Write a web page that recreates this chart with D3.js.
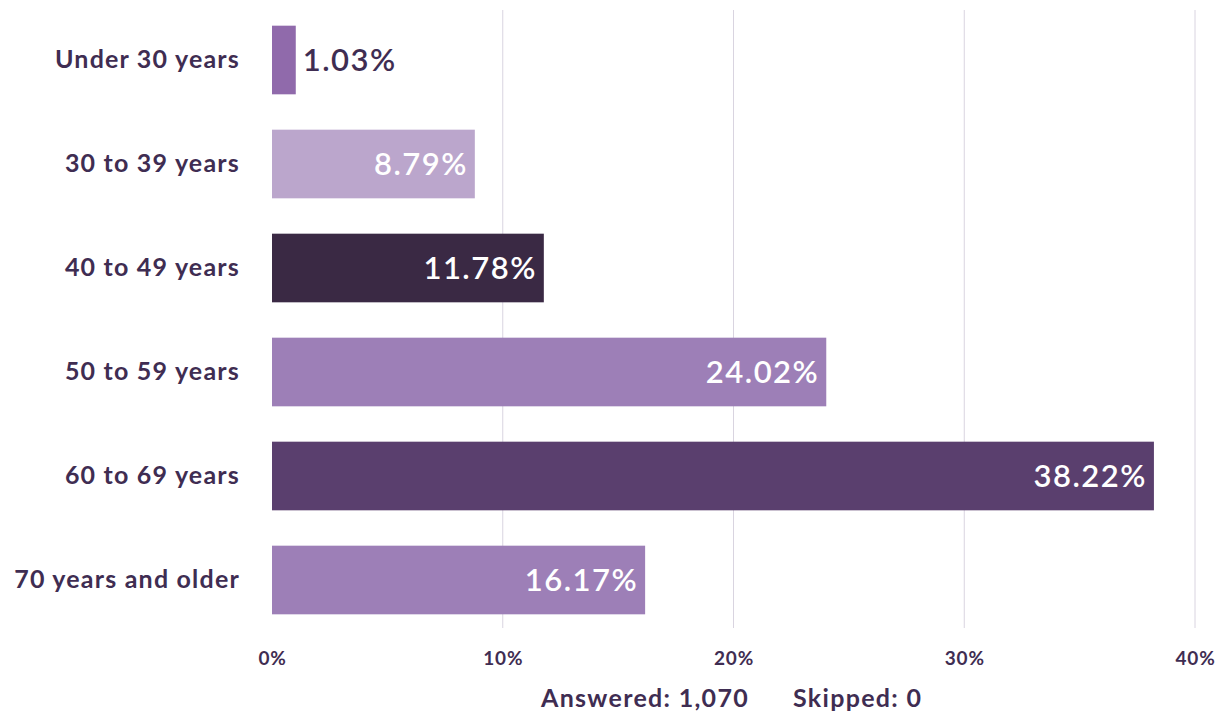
<!DOCTYPE html>
<html>
<head>
<meta charset="utf-8">
<script src="https://cdn.jsdelivr.net/npm/d3@7"></script>
<style>
  body { margin: 0; background: #fff; }
  text { font-family: Lato, "Noto Sans", sans-serif; }
</style>
</head>
<body>
<div id="chart"></div>
<script>
// data
const categories = ["Under 30 years", "30 to 39 years", "40 to 49 years", "50 to 59 years", "60 to 69 years", "70 years and older"];
const values = [1.03, 8.79, 11.78, 24.02, 38.22, 16.17];
const barColors = ["#906aab", "#bba6cc", "#3a2944", "#9d7fb7", "#5a3f6e", "#9d7fb7"];
const tickValues = [0, 10, 20, 30, 40];
const answered = "Answered: 1,070";
const skipped = "Skipped: 0";

const width = 1225, height = 719,
    textColor = "#3f2d52";

let svg = d3.select("#chart").append("svg")
    .attr("width", width)
    .attr("height", height);

let x = d3.scaleLinear().domain([0, 40]).range([272, 1195]);
let y = d3.scaleBand().domain(categories).range([8, 632]).paddingInner(0.34).paddingOuter(0.17);

// lineas de la grilla
svg.append("g").selectAll("line")
    .data(tickValues.slice(1))
    .enter().append("line")
    .attr("x1", d => x(d)).attr("x2", d => x(d))
    .attr("y1", 10).attr("y2", 628)
    .attr("stroke", "#d9d4e0")
    .attr("stroke-width", 1);

// barras
svg.append("g").selectAll("rect")
    .data(values)
    .enter().append("rect")
    .attr("x", x(0))
    .attr("y", (d, i) => y(categories[i]))
    .attr("width", d => x(d) - x(0))
    .attr("height", y.bandwidth())
    .attr("fill", (d, i) => barColors[i]);

// etiquetas de valores
svg.append("g").selectAll("text")
    .data(values)
    .enter().append("text")
    .attr("x", d => d < 3 ? x(d) + 7 : x(d) - 7)
    .attr("y", (d, i) => y(categories[i]) + y.bandwidth() / 2)
    .attr("dy", "0.35em")
    .attr("text-anchor", d => d < 3 ? "start" : "end")
    .attr("fill", d => d < 3 ? textColor : "#fff")
    .style("font-size", "31px")
    .style("font-weight", 600)
    .style("letter-spacing", "1.5px")
    .text(d => d.toFixed(2) + "%");

// eje Y (categorias)
let yAxis = svg.append("g")
    .attr("transform", "translate(272,0)")
    .call(d3.axisLeft(y).tickSize(0).tickPadding(32));
yAxis.select(".domain").remove();
yAxis.selectAll("text")
    .attr("fill", textColor)
    .style("font-size", "25px")
    .style("font-weight", 700)
    .style("letter-spacing", "1.2px");

// eje X
let xAxis = svg.append("g")
    .attr("transform", "translate(0,640)")
    .call(d3.axisBottom(x).tickValues(tickValues).tickSize(0).tickPadding(12).tickFormat(d => d + "%"));
xAxis.select(".domain").remove();
xAxis.selectAll("text")
    .attr("fill", textColor)
    .style("font-size", "19px")
    .style("font-weight", 700)
    .style("letter-spacing", "0.8px");

// resumen
svg.append("text")
    .attr("x", 541).attr("y", 707)
    .attr("fill", textColor)
    .style("font-size", "25px")
    .style("font-weight", 700)
    .style("letter-spacing", "1.3px")
    .text(answered);
svg.append("text")
    .attr("x", 793).attr("y", 707)
    .attr("fill", textColor)
    .style("font-size", "25px")
    .style("font-weight", 700)
    .style("letter-spacing", "1.3px")
    .text(skipped);
</script>
</body>
</html>
